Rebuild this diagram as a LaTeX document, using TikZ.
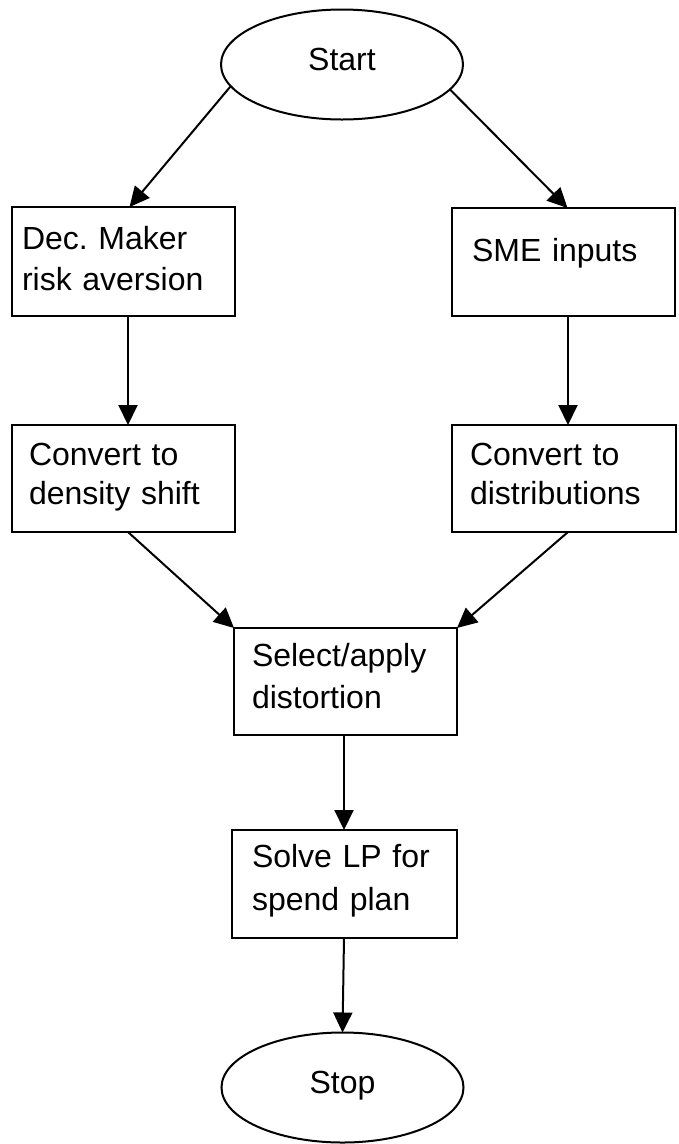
\documentclass[tikz,border=0pt]{standalone}
\usepackage{fontspec}
\setmainfont{Liberation Sans}
\usetikzlibrary{arrows.meta,shapes.geometric}
\begin{document}
\begin{tikzpicture}[x=1pt,y=-1pt,
  box/.style={draw,line width=2pt,rectangle,align=left,anchor=north west,
    outer sep=0pt,inner ysep=0pt,font=\fontsize{32}{41}\selectfont},
  oval/.style={draw,line width=2pt,ellipse,inner sep=0pt,outer sep=0pt,
    minimum width=242pt,minimum height=110pt,text height=11pt,text depth=0pt,
    font=\fontsize{32}{38}\selectfont},
  arr/.style={line width=2pt,-{Triangle[length=20pt,width=19pt]}}]
\useasboundingbox (0,0) rectangle (678,1144);
\node[oval] (start) at (342,64.5) {Start};
\node[box,inner xsep=10pt,text width=203pt,text height=42pt,text depth=67pt] (dec) at (12,207) {Dec.\ Maker\\risk aversion};
\node[box,inner xsep=20pt,text width=183pt,text height=53pt,text depth=55pt] (sme) at (452,208) {SME inputs};
\node[box,inner xsep=17pt,text width=189pt,text height=40pt,text depth=67pt,font=\fontsize{32}{39}\selectfont] (den) at (12,425) {Convert to\\density shift};
\node[box,inner xsep=18pt,text width=188pt,text height=40pt,text depth=67pt,font=\fontsize{32}{39}\selectfont] (dist) at (452,425) {Convert to\\distributions};
\node[box,inner xsep=18pt,text width=187pt,text height=38pt,text depth=69pt,font=\fontsize{32}{42}\selectfont] (sel) at (234,628) {Select/apply\\distortion};
\node[box,inner xsep=20pt,text width=185pt,text height=37pt,text depth=71pt,font=\fontsize{32}{43}\selectfont] (solve) at (232,830) {Solve LP for\\spend plan};
\node[oval] (stop) at (342.5,1087.5) {Stop};
\draw[arr] (start.191) -- ([xshift=6pt]dec.north);
\draw[arr] (start.347) -- ([xshift=4pt]sme.north);
\draw[arr] ([xshift=4.5pt]dec.south) -- ([xshift=4.5pt]den.north);
\draw[arr] ([xshift=4.5pt]sme.south) -- ([xshift=4pt]dist.north);
\draw[arr] ([xshift=4.5pt]den.south) -- (sel.north west);
\draw[arr] ([xshift=4pt]dist.south) -- (sel.north east);
\draw[arr] ([xshift=-1.5pt]sel.south) -- ([xshift=-0.5pt]solve.north);
\draw[arr] ([xshift=-0.5pt]solve.south) -- (stop.north);
\end{tikzpicture}
\end{document}
